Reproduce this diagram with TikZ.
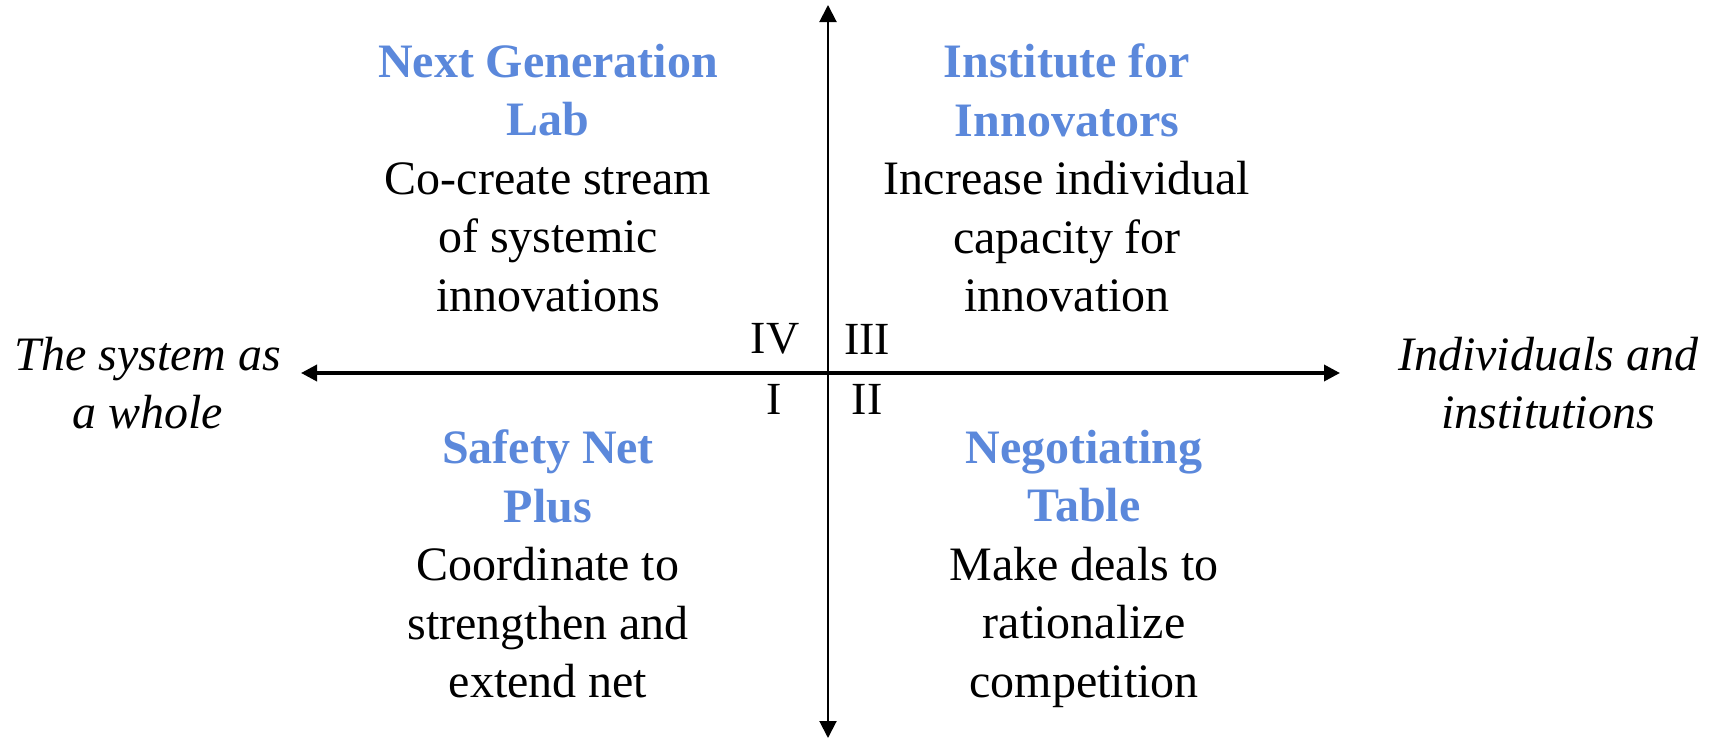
\documentclass[tikz,border=0pt]{standalone}
\usepackage{fontspec}
\setmainfont{Liberation Serif}
\usetikzlibrary{arrows.meta}
\definecolor{headblue}{RGB}{91,136,219}
\tikzset{
  block/.style={align=center, font=\fontsize{24}{29.25}\selectfont, inner sep=0pt},
  side/.style={align=center, font=\fontsize{24}{29}\selectfont\itshape, inner sep=0pt},
  numeral/.style={font=\fontsize{23}{28}\selectfont, inner sep=0pt},
  vaxis/.style={line width=1pt, -{Triangle[length=8.5pt,width=8.5pt]}},
  haxis/.style={line width=1.75pt, -{Triangle[length=8pt,width=8pt]}},
}
\newcommand{\hd}[1]{\textbf{\color{headblue}#1}}
\begin{document}
\begin{tikzpicture}[x=0.5pt,y=-0.5pt]
\useasboundingbox (0,0) rectangle (1715,739);
\coordinate (vc) at (828,373);
\coordinate (top) at (828,5);
\coordinate (bottom) at (828,738);
\coordinate (left) at (301,373);
\coordinate (right) at (1340,373);
\draw[vaxis] (vc) -- (top);
\draw[vaxis] (vc) -- (bottom);
\draw[haxis] (vc) -- (left);
\draw[haxis] (vc) -- (right);

\node[block] (ngl) at (548,178) {\hd{Next Generation}\\\hd{Lab}\\Co-create stream\\of systemic\\innovations};
\node[block] (ifi) at (1067,178) {\hd{Institute for}\\\hd{Innovators}\\Increase individual\\capacity for\\innovation};
\node[block] (snp) at (548,564) {\hd{Safety Net}\\\hd{Plus}\\Coordinate to\\strengthen and\\extend net};
\node[block] (nt) at (1084,568.5) {\hd{Negotiating}\\\hd{Table}\\Make deals to\\rationalize\\competition};

\node[side] (sys) at (148,383) {The system as\\a whole};
\node[side] (ind) at (1548,383) {Individuals and\\institutions};

\node[numeral] (q4) at (775,339) {IV};
\node[numeral] (q3) at (867,339) {III};
\node[numeral] (q1) at (774,399) {I};
\node[numeral] (q2) at (867,399) {II};
\end{tikzpicture}
\end{document}
